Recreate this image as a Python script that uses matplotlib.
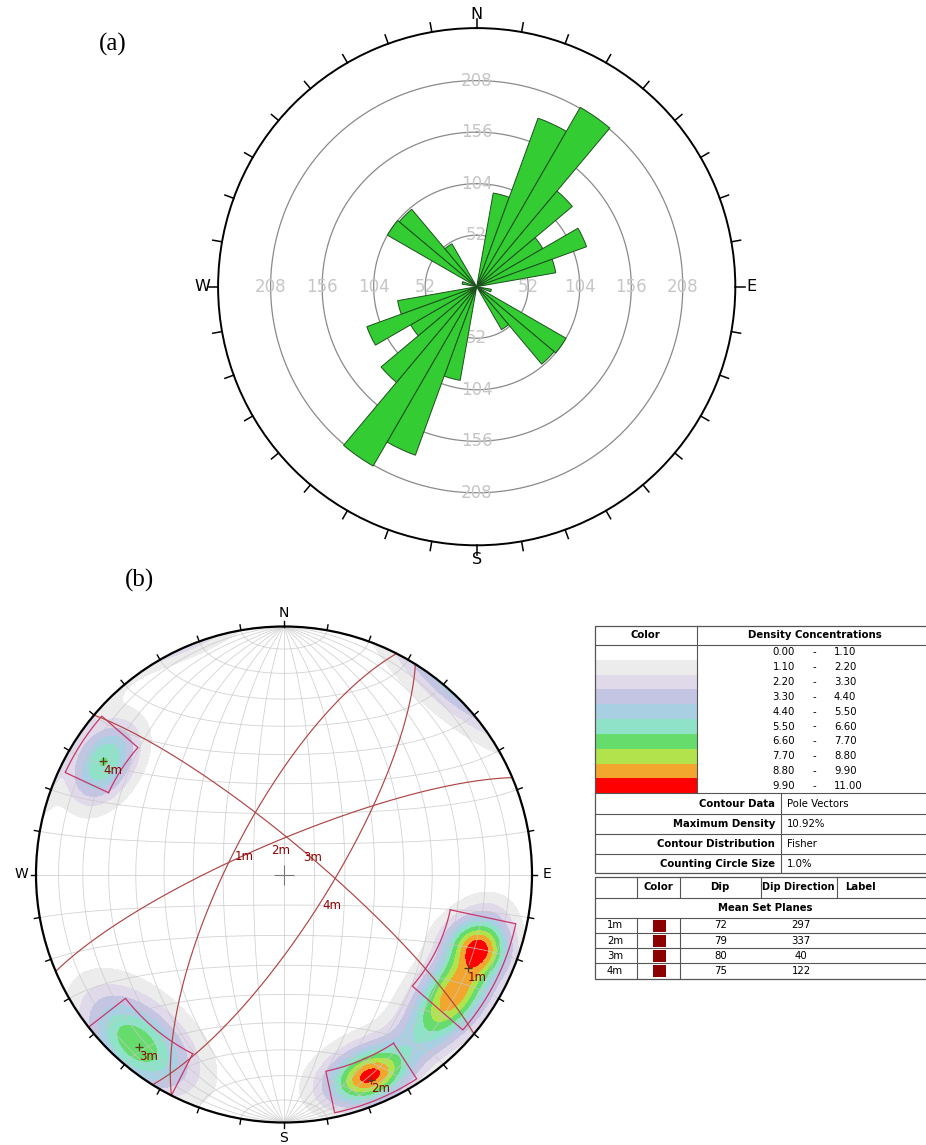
import numpy as np
import matplotlib
matplotlib.use('Agg')
import matplotlib.pyplot as plt
from matplotlib.patches import Circle, Rectangle

# ---------------- data: (a) rose diagram, strike counts per 10 deg bin (0-180, mirrored)
bin_start = list(range(0, 180, 10))
strike_counts = [0, 96, 181, 209, 126, 77, 118, 81, 0, 0, 15, 0, 104, 102, 50, 0, 0, 0]
ring_values = [52, 104, 156, 208]
rose_max = 261

# ---------------- data: (b) stereonet
density_levels = [0.00, 1.10, 2.20, 3.30, 4.40, 5.50, 6.60, 7.70, 8.80, 9.90, 11.00]
density_colors = ['#ffffff', '#ececec', '#e0d9e9', '#c3c5e3', '#a9cfe2',
                  '#8fe2c8', '#66dc6c', '#b2e34c', '#f2a62e', '#ff0000']
max_density = 10.92

set_names = ['1m', '2m', '3m', '4m']
set_dip = [72, 79, 80, 75]
set_dipdir = [297, 337, 40, 122]
win_trend = [(102, 131), (147, 168), (207, 232), (295, 311)]
win_plunge = [(5, 32), (2, 20), (0, 20), (3, 23)]

# pole concentrations:
# trend, plunge, weight, spread along strike / across (deg)
conc_trend = [104, 110.5, 123, 136, 157, 157, 221, 302]
conc_plunge = [16.5, 17, 17.5, 16, 12.5, 13, 10.5, 15.5]
conc_weight = [3.0, 6.2, 10.0, 3.3, 3.0, 8.7, 8.5, 7.51]
conc_along = [6, 4.5, 9, 7, 5.7, 9.1, 11.2, 8.1]
conc_across = [9, 9, 9, 9, 5.7, 9.1, 11.2, 8.1]

info_labels = ['Contour Data', 'Maximum Density', 'Contour Distribution', 'Counting Circle Size']
info_values = ['Pole Vectors', '10.92%', 'Fisher', '1.0%']

W, H = 926, 1145
fig = plt.figure(figsize=(W / 100, H / 100), dpi=100)


def fig_box(cx, cy, half):
    return [(cx - half) / W, 1 - (cy + half) / H, 2 * half / W, 2 * half / H]


# ================= (a) rose diagram
axr = fig.add_axes(fig_box(476.7, 286.7, 258.6), projection='polar')
axr.set_theta_zero_location('N')
axr.set_theta_direction(-1)
axr.set_ylim(0, rose_max)
axr.grid(False)
axr.set_xticks([])
axr.set_yticks([])
axr.spines['polar'].set_linewidth(1.4)

tt = np.linspace(0, 2 * np.pi, 400)
for rv in ring_values:
    axr.plot(tt, np.full_like(tt, rv), color='#8a8a8a', lw=0.9, zorder=1)
    for ang in [0, 90, 180, 270]:
        axr.text(np.deg2rad(ang), rv, str(rv), ha='center', va='center',
                 color='#c6c6c6', fontsize=12, zorder=2)

theta = np.deg2rad(np.array(bin_start + [b + 180 for b in bin_start]) + 5)
axr.bar(theta, strike_counts * 2, width=np.deg2rad(10), color='#33cc33',
        edgecolor='#1d4f1d', linewidth=0.7, zorder=3)

for ang in range(0, 360, 10):
    axr.plot([np.deg2rad(ang)] * 2, [rose_max, rose_max * 1.036], color='k', lw=1.1, clip_on=False)
for lab, ang, r in [('N', 0, 275), ('E', 90, 277), ('S', 180, 275), ('W', 270, 277)]:
    axr.text(np.deg2rad(ang), r, lab, ha='center', va='center', fontsize=11.5, clip_on=False)

fig.text(113 / W, 1 - 44 / H, '(a)', family='Liberation Serif', fontsize=18, ha='center', va='center')
fig.text(140 / W, 1 - 580 / H, '(b)', family='Liberation Serif', fontsize=18, ha='center', va='center')

# ================= (b) stereonet (equal area, lower hemisphere)
axs = fig.add_axes(fig_box(284, 874.5, 248 * 1.1))
axs.set_xlim(-1.1, 1.1)
axs.set_ylim(-1.1, 1.1)
axs.axis('off')


def proj(trend, plunge):
    t = np.deg2rad(trend)
    p = np.deg2rad(plunge)
    r = np.sqrt(2) * np.sin((np.pi / 2 - p) / 2)
    return r * np.sin(t), r * np.cos(t)


def proj_vec(x, y, z):
    f = 1 / np.sqrt(1 - z)
    return x * f, y * f


# density (axial, elliptical kernels)
n = 500
g = np.linspace(-1.0, 1.0, n)
GX, GY = np.meshgrid(g, g)
rr = np.hypot(GX, GY)
sc = np.where(rr > 1, 1 / np.maximum(rr, 1e-9), 1)
PX, PY = GX * sc, GY * sc
rho2 = PX ** 2 + PY ** 2
hh = np.sqrt(2 - rho2)
vx, vy, vz = PX * hh, PY * hh, rho2 - 1
dens = np.zeros_like(GX)
for t, p, w, sa, sb in zip(conc_trend, conc_plunge, conc_weight, conc_along, conc_across):
    t, p = np.deg2rad(t), np.deg2rad(p)
    sa, sb = np.deg2rad(sa), np.deg2rad(sb)
    c = np.array([np.cos(p) * np.sin(t), np.cos(p) * np.cos(t), -np.sin(p)])
    et = np.array([np.cos(t), -np.sin(t), 0.0])
    ep = np.array([-np.sin(p) * np.sin(t), -np.sin(p) * np.cos(t), -np.cos(p)])
    sg = np.sign(vx * c[0] + vy * c[1] + vz * c[2])
    ua = sg * (vx * et[0] + vy * et[1] + vz * et[2])
    ub = sg * (vx * ep[0] + vy * ep[1] + vz * ep[2])
    dens += w * np.exp(-(ua ** 2 / (2 * sa ** 2) + ub ** 2 / (2 * sb ** 2)))
dens *= max_density / dens.max()
cf = axs.contourf(GX, GY, dens, levels=density_levels, colors=density_colors, zorder=1)
cf.set_clip_path(Circle((0, 0), 1, transform=axs.transData))

# grid
grid_c = '#c8c8c8'
a = np.linspace(-np.pi / 2, np.pi / 2, 181)
for phi in range(10, 180, 10):
    ph = np.deg2rad(phi)
    X, Y = proj_vec(np.cos(a) * np.cos(ph), np.sin(a), -np.cos(a) * np.sin(ph))
    axs.plot(X, Y, color=grid_c, lw=0.6, alpha=0.8, zorder=2)
b = np.linspace(0, np.pi, 181)
for beta in range(10, 180, 10):
    be = np.deg2rad(beta)
    X, Y = proj_vec(np.sin(be) * np.cos(b), np.full_like(b, np.cos(be)), -np.sin(be) * np.sin(b))
    axs.plot(X, Y, color=grid_c, lw=0.6, alpha=0.8, zorder=2)

# set windows
for (t1, t2), (p1, p2) in zip(win_trend, win_plunge):
    ts = np.linspace(t1, t2, 40)
    ps = np.linspace(p1, p2, 40)
    tr = np.concatenate([ts, np.full(40, t2), ts[::-1], np.full(40, t1)])
    pl = np.concatenate([np.full(40, p2), ps[::-1], np.full(40, p1), ps])
    X, Y = proj(tr, pl)
    axs.plot(X, Y, color='#c8386a', lw=0.9, zorder=4)

# mean set planes, poles and labels
s = np.linspace(0, np.pi, 200)
for name, dip, dd in zip(set_names, set_dip, set_dipdir):
    d, st, dp = np.deg2rad(dd), np.deg2rad(dd - 90), np.deg2rad(dip)
    sx, sy = np.sin(st), np.cos(st)
    ux, uy, uz = np.cos(dp) * np.sin(d), np.cos(dp) * np.cos(d), -np.sin(dp)
    X, Y = proj_vec(np.cos(s) * sx + np.sin(s) * ux, np.cos(s) * sy + np.sin(s) * uy, np.sin(s) * uz)
    axs.plot(X, Y, color='#b04444', lw=0.85, zorder=4)
    lx, ly = proj(dd, dip)
    axs.text(lx, ly, name, ha='left', va='top', color='#8b0000', fontsize=8.5, zorder=6)
    px, py = proj((dd + 180) % 360, 90 - dip)
    axs.plot(px, py, marker='+', ms=6, mew=0.9, color='#5a3a1a', zorder=6)
    axs.text(px, py - 0.01, name, ha='left', va='top', color='#8b0000', fontsize=8.5, zorder=6)

axs.plot(0, 0, marker='+', ms=14, mew=0.8, color='#777777', zorder=5)
axs.add_patch(Circle((0, 0), 1, fill=False, ec='k', lw=1.6, zorder=5))
for ang in range(0, 360, 10):
    t = np.deg2rad(ang)
    axs.plot([np.sin(t), 1.022 * np.sin(t)], [np.cos(t), 1.022 * np.cos(t)], color='k', lw=1, zorder=5)
for lab, x, y in [('N', 0, 1.056), ('S', 0, -1.062), ('W', -1.06, 0), ('E', 1.059, 0)]:
    axs.text(x, y, lab, ha='center', va='center', fontsize=10)

# ================= legend tables (pixel coordinates)
axt = fig.add_axes([0, 0, 1, 1])
axt.set_xlim(0, W)
axt.set_ylim(H, 0)
axt.axis('off')
lc = '#555555'
fs = 7.3

x0, xd, x1 = 595, 696.7, 935
top, hb = 626, 645
band_h = (793.3 - hb) / 10
for i, c in enumerate(density_colors):
    axt.add_patch(Rectangle((x0, hb + i * band_h), xd - x0, band_h, color=c, lw=0))
    yc = hb + (i + 0.5) * band_h
    axt.text(795, yc, '%.2f' % density_levels[i], ha='right', va='center', fontsize=fs)
    axt.text(814, yc, '-', ha='center', va='center', fontsize=fs)
    axt.text(834, yc, '%.2f' % density_levels[i + 1], ha='left', va='center', fontsize=fs)
axt.add_patch(Rectangle((x0, top), x1 - x0, 873.3 - top, fill=False, ec=lc, lw=0.9))
axt.plot([x0, x1], [hb, hb], color=lc, lw=0.8)
axt.plot([xd, xd], [top, 793.3], color=lc, lw=0.8)
axt.text((x0 + xd) / 2, (top + hb) / 2, 'Color', ha='center', va='center', fontsize=fs, weight='bold')
axt.text(815, (top + hb) / 2, 'Density Concentrations', ha='center', va='center', fontsize=fs, weight='bold')
rows = [793.3, 814, 834, 854, 873.3]
axt.plot([780.7, 780.7], [rows[0], rows[-1]], color=lc, lw=0.8)
for i, (lab, val) in enumerate(zip(info_labels, info_values)):
    axt.plot([x0, x1], [rows[i], rows[i]], color=lc, lw=0.8)
    yc = (rows[i] + rows[i + 1]) / 2
    axt.text(775, yc, lab, ha='right', va='center', fontsize=fs, weight='bold')
    axt.text(787, yc, val, ha='left', va='center', fontsize=fs)

# mean set planes table
t2top, t2h, t2m = 877.3, 897.7, 917.7
t2rows = [917.7, 933.3, 948.3, 963.3, 979.3]
axt.add_patch(Rectangle((x0, t2top), x1 - x0, t2rows[-1] - t2top, fill=False, ec=lc, lw=0.9))
axt.plot([x0, x1], [t2h, t2h], color=lc, lw=0.8)
for xv in [636.7, 680, 760.7, 836.7]:
    axt.plot([xv, xv], [t2top, t2h], color=lc, lw=0.8)
for xv in [636.7, 680]:
    axt.plot([xv, xv], [t2m, t2rows[-1]], color=lc, lw=0.8)
hy = (t2top + t2h) / 2
axt.text(658.3, hy, 'Color', ha='center', va='center', fontsize=fs, weight='bold')
axt.text(720, hy, 'Dip', ha='center', va='center', fontsize=fs, weight='bold')
axt.text(798.7, hy, 'Dip Direction', ha='center', va='center', fontsize=fs - 0.3, weight='bold')
axt.text(845, hy, 'Label', ha='left', va='center', fontsize=fs, weight='bold')
axt.text(765, (t2h + t2m) / 2, 'Mean Set Planes', ha='center', va='center', fontsize=fs, weight='bold')
for i, (name, dip, dd) in enumerate(zip(set_names, set_dip, set_dipdir)):
    axt.plot([x0, x1], [t2rows[i], t2rows[i]], color=lc, lw=0.8)
    yc = (t2rows[i] + t2rows[i + 1]) / 2
    axt.text(615, yc, name, ha='center', va='center', fontsize=fs)
    axt.add_patch(Rectangle((653, yc - 6), 13, 12, color='#8b0000', lw=0))
    axt.text(720.5, yc, str(dip), ha='center', va='center', fontsize=fs)
    axt.text(801, yc, str(dd), ha='center', va='center', fontsize=fs)

fig.savefig('out.png', dpi=100)
